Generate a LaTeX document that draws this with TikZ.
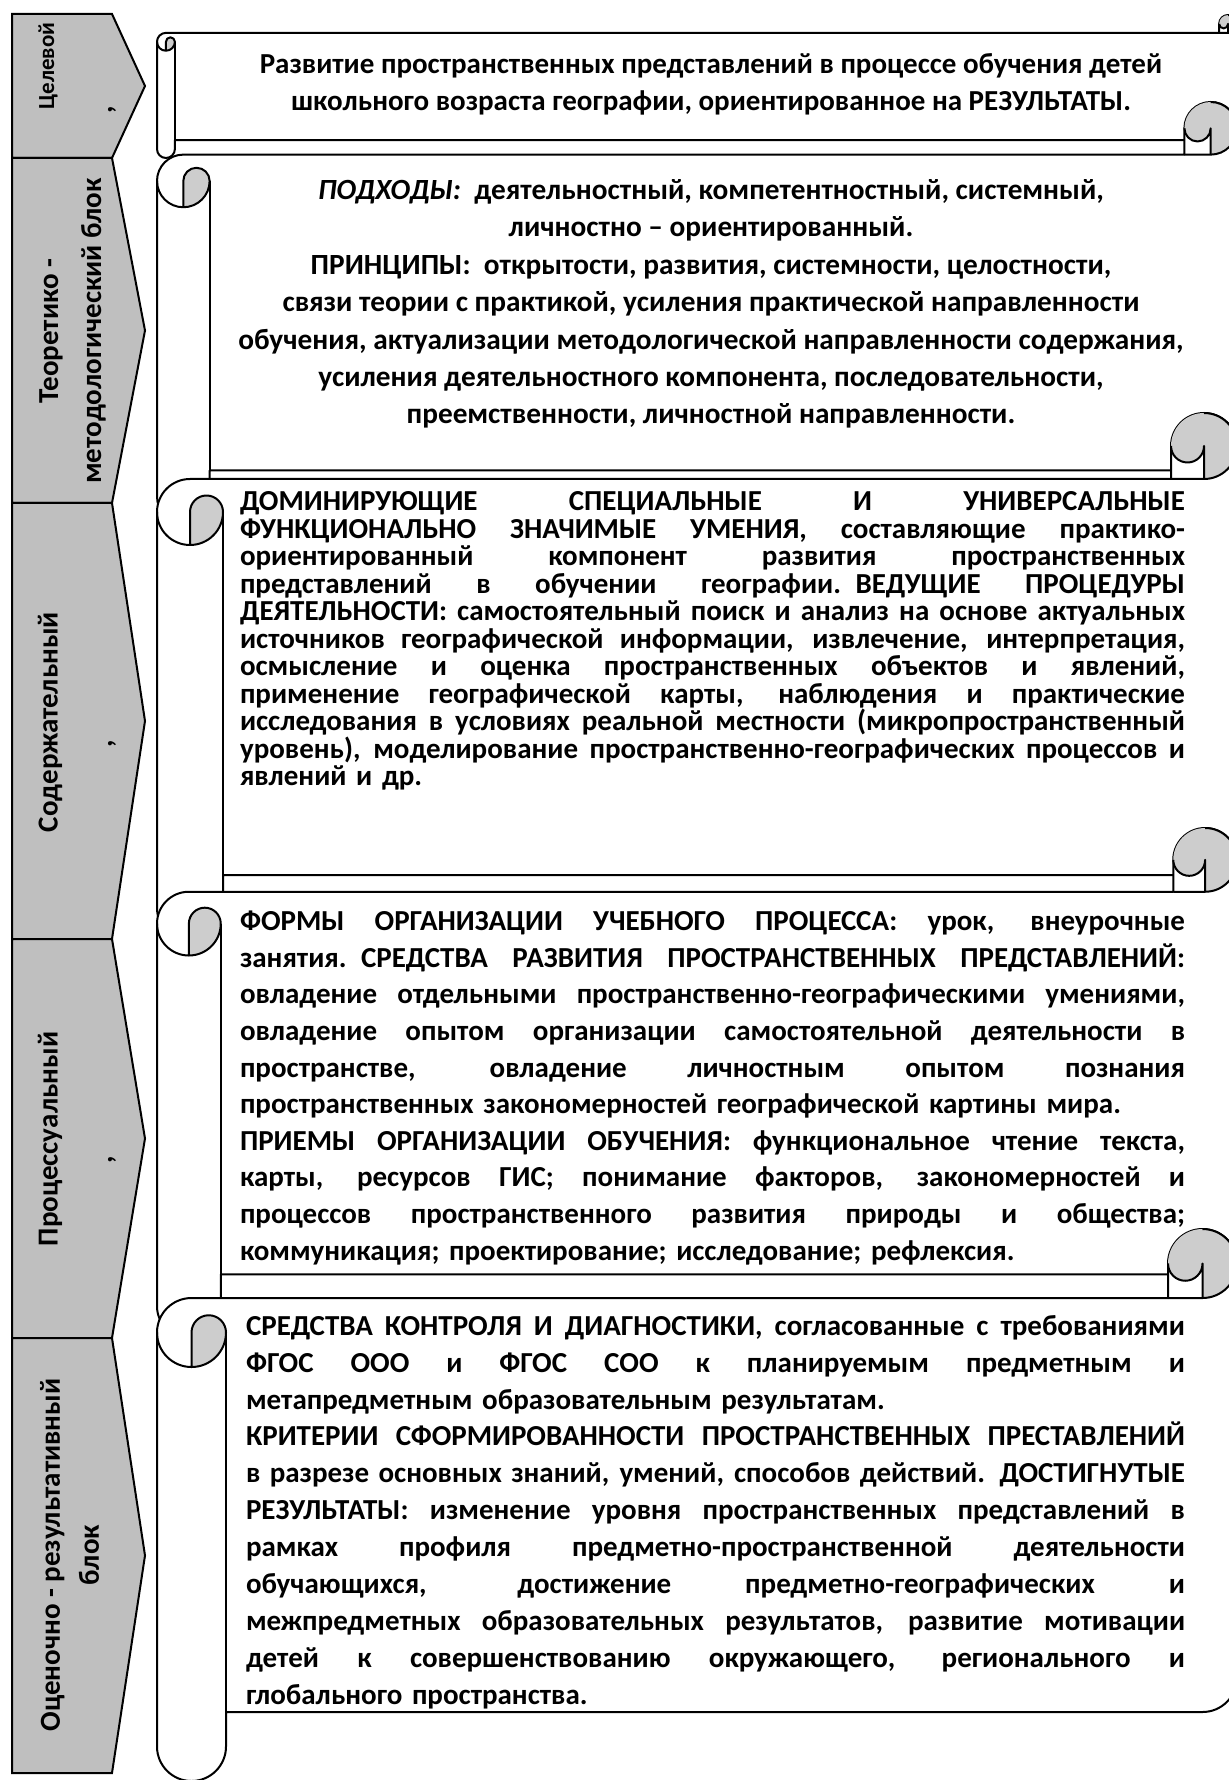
\documentclass[tikz,border=0pt]{standalone}
\usepackage{fontspec}
\setmainfont{Carlito}
\definecolor{chevgray}{RGB}{191,191,191}
\definecolor{curlgray}{RGB}{205,205,205}
\tikzset{
  chev/.style={draw, line width=1pt, fill=chevgray},
  lbl/.style={rotate=90, inner sep=0pt, align=center, font=\bfseries\fontsize{14.5}{#1}\selectfont},
  roll/.style={draw, line width=1pt, line join=round},
  curl/.style={fill=curlgray},
  body/.style={inner sep=0pt, font=\bfseries\fontsize{14.5}{#1}\selectfont}
}
\newcommand{\jline}[1]{\noindent\hbox to \hsize{\spaceskip=0.226em plus 1fil minus 0.08em\relax #1}\par}
\newcommand{\lline}[1]{\noindent\hbox{#1}\par}
\def\sW{1080}
\newcommand{\scrollshape}[2]{%
  \pgfmathsetmacro{\sH}{#2}%
  \pgfmathsetmacro{\sch}{#2/8}%
  \pgfmathsetmacro{\scb}{#2/16}%
  \pgfmathsetmacro{\scq}{#2/32}%
  \begin{scope}[shift={(157,#1)}]
    \draw[roll, fill=white] (0,1.5*\sch) arc[start angle=180, delta angle=90, radius=\scb]
      -- (\sW-\sch,\sch) -- (\sW-\sch,\scb) arc[start angle=180, delta angle=180, radius=\scb]
      -- (\sW,\sH-1.5*\sch) arc[start angle=0, delta angle=90, radius=\scb]
      -- (\sch,\sH-\sch) -- (\sch,\sH-\scb) arc[start angle=0, delta angle=180, radius=\scb] -- cycle;
    \fill[curl] (\sW-\scb,\sch) arc[start angle=90, delta angle=-270, radius=\scb]
      arc[start angle=180, delta angle=-180, radius=\scq] -- cycle;
    \fill[curl] (\scb,2*\sch) arc[start angle=90, delta angle=-90, radius=\scb]
      arc[start angle=0, delta angle=-180, radius=\scq] -- cycle;
    \draw[roll] (\sW-\sch,\sch) -- (\sW-\scb,\sch) arc[start angle=90, delta angle=-180, radius=\scb];
    \draw[roll] (\sW-\scb,\sch) -- (\sW-\scb,\scb) arc[start angle=0, delta angle=180, radius=\scq];
    \draw[roll] (\scb,2*\sch) -- (\scb,1.5*\sch) arc[start angle=180, delta angle=180, radius=\scq]
      arc[start angle=0, delta angle=180, radius=\scb];
    \draw[roll] (\sch,1.5*\sch) -- (\sch,\sH-\sch);
  \end{scope}}
\lineskiplimit=-20pt
\begin{document}
\lineskiplimit=-20pt
\begin{tikzpicture}[x=0.5pt, y=-0.5pt]
    \useasboundingbox (0,0) rectangle (1229,1780);
    \clip (0,0) rectangle (1229,1780);

    \foreach \t/\b in {14/158, 158/503, 503/939, 939/1338, 1338/1773}
        {\draw[chev] (12,\t) -- (112,\t) -- (145,{(\t+\b)/2}) -- (112,\b) -- (12,\b) -- cycle;}

    \node[lbl=20pt, font=\bfseries\fontsize{11.5}{14}\selectfont] (goal) at (48,66) {Целевой};
    \node[lbl=20pt] (mark1) at (112,110) {,};
    \node[lbl=21.5pt] (theory) at (72.5,331) {Теоретико -\\методологический блок};
    \node[lbl=20pt] (content) at (50,722) {Содержательный};
    \node[lbl=20pt] (mark3) at (112,744) {,};
    \node[lbl=20pt] (process) at (50,1139) {Процессуальный};
    \node[lbl=20pt] (mark4) at (112,1160) {,};
    \node[lbl=19.5pt] (result) at (69.5,1555) {Оценочно - результативный\\блок};

    \foreach \t/\h in {15/143, 102/421, 413/528, 828/510, 1229/552}
        {\scrollshape{\t}{\h}}

    \node[body=18.7pt, align=center] (goaltext) at (711,84.5)
        {Развитие пространственных представлений в процессе обучения детей\\
         школьного возраста географии, ориентированное на РЕЗУЛЬТАТЫ.};

    \node[body=18.7pt, align=center, font=\bfseries\fontsize{14.65}{18.7}\selectfont] (theorytext) at (711,304)
        {\textit{ПОДХОДЫ:}\ \ деятельностный, компетентностный, системный,\\
         личностно – ориентированный.\\
         ПРИНЦИПЫ:\ \ открытости, развития, системности, целостности,\\
         связи теории с практикой, усиления практической направленности\\
         обучения, актуализации методологической направленности содержания,\\
         усиления деятельностного компонента, последовательности,\\
         преемственности, личностной направленности.};

    \node[body=13.75pt, text width=472.5pt] (contenttext) at (712.5,641) {%
        \jline{ДОМИНИРУЮЩИЕ СПЕЦИАЛЬНЫЕ И УНИВЕРСАЛЬНЫЕ}
        \jline{ФУНКЦИОНАЛЬНО ЗНАЧИМЫЕ УМЕНИЯ, составляющие практико-}
        \jline{ориентированный компонент развития пространственных}
        \jline{представлений в обучении географии. ВЕДУЩИЕ ПРОЦЕДУРЫ}
        \jline{ДЕЯТЕЛЬНОСТИ: самостоятельный поиск и анализ на основе актуальных}
        \jline{источников географической информации, извлечение, интерпретация,}
        \jline{осмысление и оценка пространственных объектов и явлений,}
        \jline{применение географической карты, наблюдения и практические}
        \jline{исследования в условиях реальной местности (микропространственный}
        \jline{уровень), моделирование пространственно-географических процессов и}
        \lline{явлений и др.}};

    \node[body=18.3pt, text width=472.5pt] (processtext) at (712.5,1088) {%
        \jline{ФОРМЫ ОРГАНИЗАЦИИ УЧЕБНОГО ПРОЦЕССА: урок, внеурочные}
        \jline{занятия. СРЕДСТВА РАЗВИТИЯ ПРОСТРАНСТВЕННЫХ ПРЕДСТАВЛЕНИЙ:}
        \jline{овладение отдельными пространственно-географическими умениями,}
        \jline{овладение опытом организации самостоятельной деятельности в}
        \jline{пространстве, овладение личностным опытом познания}
        \lline{пространственных закономерностей географической картины мира.}
        \jline{ПРИЕМЫ ОРГАНИЗАЦИИ ОБУЧЕНИЯ: функциональное чтение текста,}
        \jline{карты, ресурсов ГИС; понимание факторов, закономерностей и}
        \jline{процессов пространственного развития природы и общества;}
        \lline{коммуникация; проектирование; исследование; рефлексия.}};

    \node[body=18.45pt, text width=469.5pt] (resulttext) at (715.5,1512) {%
        \jline{СРЕДСТВА КОНТРОЛЯ И ДИАГНОСТИКИ, согласованные с требованиями}
        \jline{ФГОС ООО и ФГОС СОО к планируемым предметным и}
        \lline{метапредметным образовательным результатам.}
        \jline{КРИТЕРИИ СФОРМИРОВАННОСТИ ПРОСТРАНСТВЕННЫХ ПРЕСТАВЛЕНИЙ}
        \jline{в разрезе основных знаний, умений, способов действий. ДОСТИГНУТЫЕ}
        \jline{РЕЗУЛЬТАТЫ: изменение уровня пространственных представлений в}
        \jline{рамках профиля предметно-пространственной деятельности}
        \jline{обучающихся, достижение предметно-географических и}
        \jline{межпредметных образовательных результатов, развитие мотивации}
        \jline{детей к совершенствованию окружающего, регионального и}
        \lline{глобального пространства.}};
\end{tikzpicture}
\end{document}
